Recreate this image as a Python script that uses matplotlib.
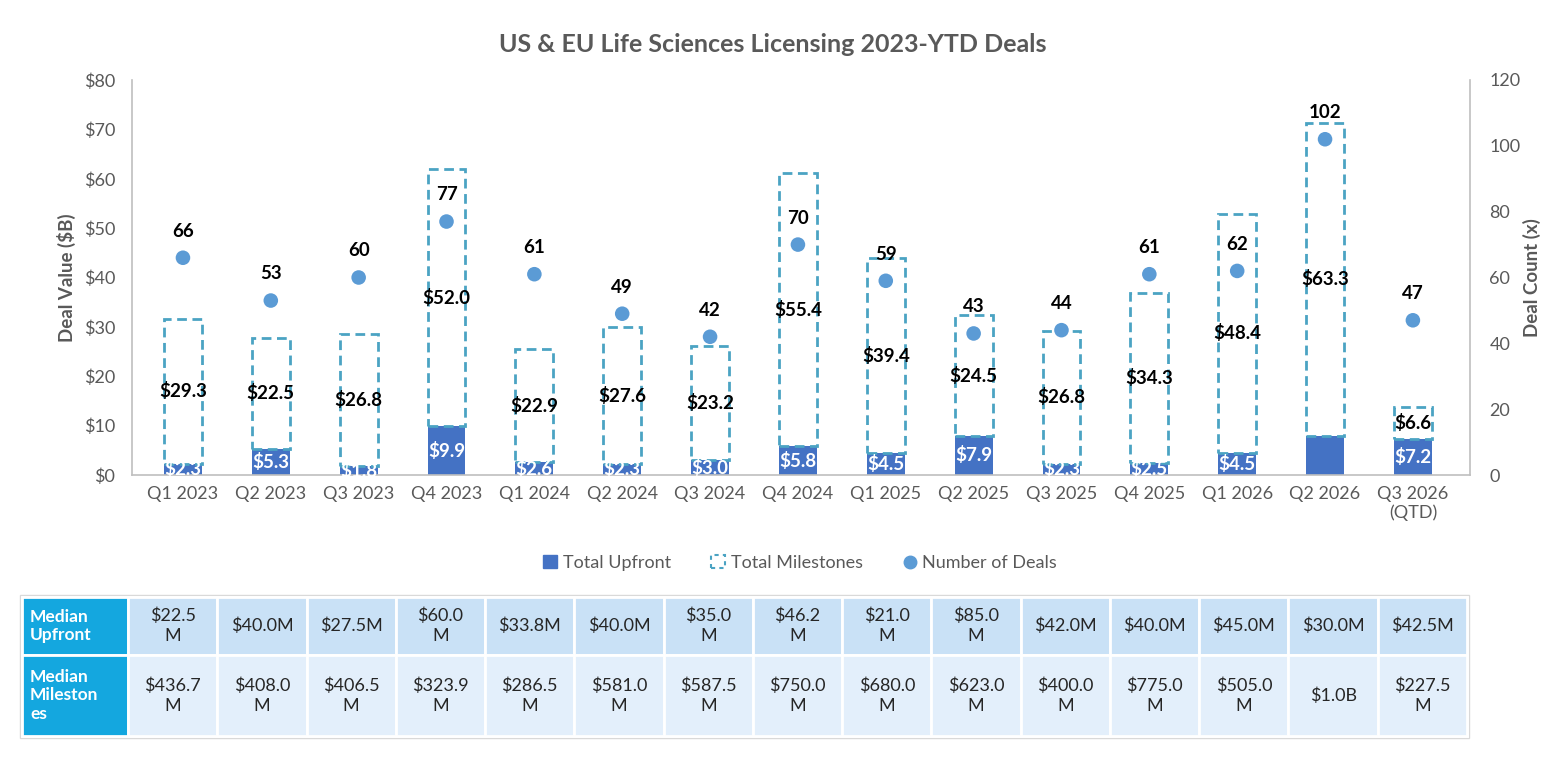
import matplotlib.pyplot as plt
import matplotlib.patches as mpatches
from matplotlib.lines import Line2D
import numpy as np

plt.rcParams['font.family'] = ['Lato', 'DejaVu Sans']

# data
quarters = ["Q1 2023", "Q2 2023", "Q3 2023", "Q4 2023", "Q1 2024", "Q2 2024", "Q3 2024", "Q4 2024",
            "Q1 2025", "Q2 2025", "Q3 2025", "Q4 2025", "Q1 2026", "Q2 2026", "Q3 2026\n(QTD)"]
upfront = [2.3, 5.3, 1.8, 9.9, 2.6, 2.3, 3.0, 5.8, 4.5, 7.9, 2.3, 2.5, 4.5, 8.0, 7.2]
upfront_labels = ["$2.3", "$5.3", "$1.8", "$9.9", "$2.6", "$2.3", "$3.0", "$5.8",
                  "$4.5", "$7.9", "$2.3", "$2.5", "$4.5", "", "$7.2"]
milestones = [29.3, 22.5, 26.8, 52.0, 22.9, 27.6, 23.2, 55.4, 39.4, 24.5, 26.8, 34.3, 48.4, 63.3, 6.6]
deals = [66, 53, 60, 77, 61, 49, 42, 70, 59, 43, 44, 61, 62, 102, 47]
median_upfront = ["$22.5\nM", "$40.0M", "$27.5M", "$60.0\nM", "$33.8M", "$40.0M", "$35.0\nM", "$46.2\nM",
                  "$21.0\nM", "$85.0\nM", "$42.0M", "$40.0M", "$45.0M", "$30.0M", "$42.5M"]
median_milestones = ["$436.7\nM", "$408.0\nM", "$406.5\nM", "$323.9\nM", "$286.5\nM", "$581.0\nM",
                     "$587.5\nM", "$750.0\nM", "$680.0\nM", "$623.0\nM", "$400.0\nM", "$775.0\nM",
                     "$505.0\nM", "$1.0B", "$227.5\nM"]
row_headers = ["Median\nUpfront", "Median\nMileston\nes"]

blue = "#4472C4"
teal = "#4BA3C3"
dot = "#5B9BD5"
grey = "#595959"
spine = "#BFBFBF"

W, H = 1546, 760
fig = plt.figure(figsize=(W / 100, H / 100), dpi=100)

ax = fig.add_axes([132 / W, 1 - 475 / H, (1470 - 132) / W, (475 - 80) / H])
x = np.arange(len(quarters))
bw = 0.43

ax.bar(x, upfront, bw, color=blue, zorder=2)
ax.bar(x, milestones, bw, bottom=upfront, facecolor="none", edgecolor=teal,
       linewidth=2, linestyle=(0, (3.5, 2)), zorder=3)

for i in range(len(x)):
    if upfront_labels[i]:
        ax.text(x[i], upfront[i] / 2, upfront_labels[i], ha="center", va="center",
                color="white", fontsize=13.5, fontweight="bold", zorder=4)
    ax.text(x[i], upfront[i] + milestones[i] / 2, "$%.1f" % milestones[i], ha="center", va="center",
            color="black", fontsize=13.5, fontweight="bold", zorder=4)

ax.set_xlim(-0.58, len(x) - 1 + 0.65)
ax.set_ylim(0, 80)
ax.set_yticks(range(0, 81, 10))
ax.set_yticklabels(["$%d" % v for v in range(0, 81, 10)])
ax.set_xticks(x)
ax.set_xticklabels(quarters)
ax.tick_params(axis="both", length=0, labelsize=13, colors=grey, pad=8)
ax.tick_params(axis="y", pad=12)
for s in ["top", "right"]:
    ax.spines[s].set_visible(False)
for s in ["left", "bottom"]:
    ax.spines[s].set_color(spine)
    ax.spines[s].set_linewidth(1.2)
ax.set_ylabel("Deal Value ($B)", fontsize=13.5, fontweight="bold", color=grey, labelpad=6)

ax2 = ax.twinx()
ax2.scatter(x, deals, s=110, color=dot, zorder=5, edgecolors="none")
for i in range(len(x)):
    ax2.annotate(str(deals[i]), (x[i], deals[i]), xytext=(0, 13), textcoords="offset points",
                 ha="center", va="bottom", fontsize=13.5, fontweight="bold", color="black")
ax2.set_ylim(0, 120)
ax2.set_yticks(range(0, 121, 20))
ax2.tick_params(axis="y", length=0, labelsize=13, colors=grey, pad=14)
for s in ["top", "left", "bottom"]:
    ax2.spines[s].set_visible(False)
ax2.spines["right"].set_color(spine)
ax2.spines["right"].set_linewidth(1.2)
ax2.set_ylabel("Deal Count (x)", fontsize=13.5, fontweight="bold", color=grey, labelpad=2)

fig.text(0.5, 1 - 45 / H, "US & EU Life Sciences Licensing 2023-YTD Deals", ha="center", va="center",
         fontsize=18, fontweight="bold", color=grey)

handles = [mpatches.Patch(facecolor=blue, edgecolor=blue, label="Total Upfront"),
           mpatches.Patch(facecolor="none", edgecolor=teal, linestyle=(0, (2, 2)), linewidth=1.5,
                          label="Total Milestones"),
           Line2D([], [], marker="o", linestyle="none", markersize=9, color=dot, label="Number of Deals")]
fig.legend(handles=handles, loc="center", bbox_to_anchor=(800 / W, 1 - 563 / H), ncol=3, frameon=False,
           fontsize=13, labelcolor=grey, handlelength=0.8, handletextpad=0.3, columnspacing=2.2)

# table below the chart
tax = fig.add_axes([0, 0, 1, 1])
tax.set_xlim(0, W)
tax.set_ylim(H, 0)
tax.axis("off")
col0_l, col0_r = 22, 128
tbl_r = 1467
cw = (tbl_r - col0_r) / len(quarters)
rows = [(597, 655, median_upfront, "#C9E1F6"), (655, 736, median_milestones, "#E3EFFB")]
tax.add_patch(mpatches.Rectangle((col0_l - 2, 595), tbl_r - col0_l + 4, 143, facecolor="white",
                                 edgecolor="#D9D9D9", linewidth=1))
for r, (y0, y1, vals, fc) in enumerate(rows):
    tax.add_patch(mpatches.Rectangle((col0_l, y0), col0_r - col0_l, y1 - y0, facecolor="#14A7DF",
                                     edgecolor="white", linewidth=2))
    tax.text(col0_l + 8, (y0 + y1) / 2, row_headers[r], ha="left", va="center", color="white",
             fontsize=12.5, fontweight="bold", linespacing=1.2)
    for j, v in enumerate(vals):
        cx = col0_r + j * cw
        tax.add_patch(mpatches.Rectangle((cx, y0), cw, y1 - y0, facecolor=fc, edgecolor="white",
                                         linewidth=2))
        tax.text(cx + cw / 2, (y0 + y1) / 2, v, ha="center", va="center", color="#262626",
                 fontsize=13, linespacing=1.3)

fig.savefig("out.png", dpi=100)
